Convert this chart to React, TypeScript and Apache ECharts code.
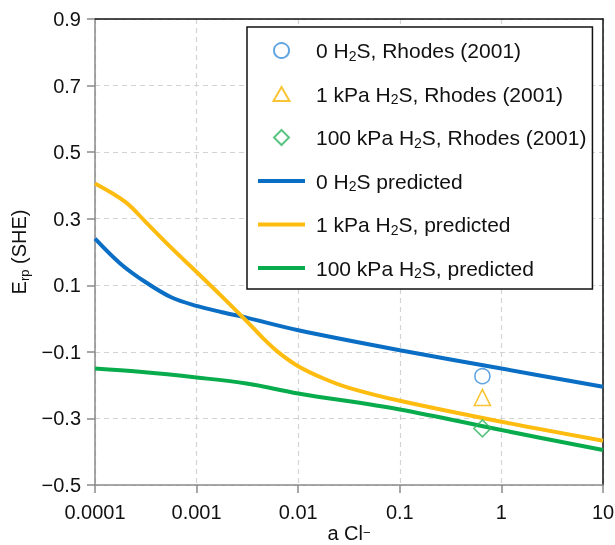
import React, { useEffect, useRef } from "react";
import * as echarts from "echarts";

// Predicted curves (a Cl-, E_rp)
const blueA = [0.0001, 0.000178, 0.000316, 0.000562, 0.001, 0.00178, 0.00316, 0.01, 0.1, 1, 10];
const blueE = [0.24, 0.165, 0.109, 0.064, 0.038, 0.019, 0.002, -0.035, -0.095, -0.15, -0.205];

const yellowA = [0.0001, 0.0002, 0.000316, 0.000562, 0.001, 0.00178, 0.00316, 0.00447, 0.0063, 0.01, 0.0178, 0.0316, 0.1, 1, 10];
const yellowE = [0.406, 0.35, 0.29, 0.213, 0.14, 0.066, -0.01, -0.058, -0.1, -0.143, -0.18, -0.208, -0.247, -0.31, -0.367];

const greenA = [0.0001, 0.000275, 0.001, 0.0031, 0.01, 0.1, 1, 10];
const greenE = [-0.15, -0.16, -0.177, -0.195, -0.225, -0.273, -0.335, -0.395];

// Rhodes (2001) measurements
const rhodesA = [0.65];
const rhodes0 = [-0.173];
const rhodes1k = [-0.237];
const rhodes100k = [-0.33];

const xTickLabels = ["0.0001", "0.001", "0.01", "0.1", "1", "10"];

const names = [
  "0 H2S, Rhodes (2001)",
  "1 kPa H2S, Rhodes (2001)",
  "100 kPa H2S, Rhodes (2001)",
  "0 H2S predicted",
  "1 kPa H2S, predicted",
  "100 kPa H2S, predicted",
];

const FONT = "Liberation Sans, Arial, Helvetica, sans-serif";

// legend icons padded to the 47x15 icon box so they keep their shape
const legendIcons = [
  "circle",
  "path://M0,0M47,15M15.5,14.5L23.5,0.5L31.5,14.5Z",
  "path://M0,0M47,15M23.5,0L31,7.5L23.5,15L16,7.5Z",
];

export default function App() {
  const ref = useRef<HTMLDivElement>(null);
  useEffect(() => {
    if (!ref.current) return;
    const chart = echarts.init(ref.current, undefined, { renderer: "svg" });
    const pair = (xs: number[], ys: number[]) => xs.map((x, i) => [x, ys[i]]);
    const mkRich = (size: number, lh: number) => ({
      g: { width: 6, lineHeight: lh },
      t: { fontSize: size, fontFamily: FONT, color: "#111", lineHeight: lh },
      s: { fontSize: Math.round(size * 0.65), fontFamily: FONT, color: "#111", lineHeight: 13, verticalAlign: "bottom" },
      p: { fontSize: Math.round(size * 0.65), fontFamily: FONT, color: "#111", lineHeight: 13, verticalAlign: "top" },
    });
    const lineSeries = (name: string, xs: number[], ys: number[], color: string) => ({
      name,
      type: "line",
      data: pair(xs, ys),
      smooth: 0.35,
      symbol: "none",
      lineStyle: { color, width: 4 },
      itemStyle: { color },
      z: 2,
    });
    const scatterSeries = (name: string, ys: number[], symbol: string, color: string, size: number) => ({
      name,
      type: "scatter",
      data: pair(rhodesA, ys),
      symbol,
      symbolSize: size,
      symbolKeepAspect: true,
      itemStyle: { color: "rgba(255,255,255,0)", borderColor: color, borderWidth: 1.6 },
      z: 5,
    });
    const colors = ["#3a8edb", "#f7b500", "#2fb561", "#0a6ec4", "#fdbc0f", "#08ac4c"];
    chart.setOption({
      animation: false,
      textStyle: { fontFamily: FONT },
      grid: { left: 95, right: 12, top: 19, bottom: 60, containLabel: false, outerBoundsMode: "none" },
      legend: {
        orient: "vertical",
        left: 247,
        top: 27,
        itemWidth: 47,
        itemHeight: 15,
        itemGap: 21,
        itemTextGap: 5,
        padding: [13, 6, 9, 9],
        borderColor: "#111",
        borderWidth: 1.5,
        backgroundColor: "#fff",
        data: names.map((n, i) =>
          i < 3
            ? { name: n, icon: legendIcons[i] }
            : { name: n, itemStyle: { opacity: 0 }, lineStyle: { width: 4, color: colors[i] } }
        ),
        formatter: (name: string) => {
          const parts = name.split("H2S");
          return `{g| }{t|${parts[0]}H}{s|2}{t|S${parts[1]}}`;
        },
        textStyle: { rich: mkRich(21, 24) },
      },
      xAxis: [
        {
          type: "log",
          logBase: 10,
          min: 0.0001,
          max: 10,
          name: "{t|a Cl}{p|−}",
          nameLocation: "middle",
          nameGap: 41,
          nameMoveOverlap: false,
          nameTextStyle: { rich: mkRich(20, 14) },
          axisLine: { onZero: false, lineStyle: { color: "#8a8a8a", width: 1.5 } },
          axisTick: { show: true, inside: false, length: 8, lineStyle: { color: "#8a8a8a", width: 1.5 } },
          minorTick: { show: false },
          axisLabel: {
            fontSize: 20,
            color: "#111",
            margin: 17,
            formatter: (v: number) => xTickLabels[Math.round(Math.log10(v)) + 4],
          },
          splitLine: { show: true, lineStyle: { color: "#d3d3d3", type: [5, 4], width: 1.2 } },
        },
        {
          type: "value",
          position: "top",
          min: 0,
          max: 1,
          axisLine: { show: true, onZero: false, lineStyle: { color: "#111", width: 1.5 } },
          axisTick: { show: false },
          axisLabel: { show: false },
          splitLine: { show: false },
        },
      ],
      yAxis: [
        {
          type: "value",
          min: -0.5,
          max: 0.9,
          interval: 0.2,
          name: "{t|E}{s|rp}{t| (SHE)}",
          nameLocation: "middle",
          nameGap: 40,
          nameTextStyle: { rich: mkRich(20, 24) },
          axisLine: { show: true, onZero: false, lineStyle: { color: "#8a8a8a", width: 1.5 } },
          axisTick: { show: true, inside: false, length: 8, lineStyle: { color: "#8a8a8a", width: 1.5 } },
          axisLabel: {
            fontSize: 20,
            color: "#111",
            margin: 14,
            formatter: (v: number) => (v < -1e-9 ? "−" : "") + Math.abs(v).toFixed(1),
          },
          splitLine: { show: true, lineStyle: { color: "#d3d3d3", type: [5, 4], width: 1.2 } },
        },
        {
          type: "value",
          position: "right",
          min: 0,
          max: 1,
          axisLine: { show: true, onZero: false, lineStyle: { color: "#111", width: 1.5 } },
          axisTick: { show: false },
          axisLabel: { show: false },
          splitLine: { show: false },
        },
      ],
      series: [
        scatterSeries(names[0], rhodes0, "circle", colors[0], 15),
        scatterSeries(names[1], rhodes1k, "triangle", colors[1], 16),
        scatterSeries(names[2], rhodes100k, "diamond", colors[2], 17),
        lineSeries(names[3], blueA, blueE, colors[3]),
        lineSeries(names[4], yellowA, yellowE, colors[4]),
        lineSeries(names[5], greenA, greenE, colors[5]),
      ],
    });
    return () => chart.dispose();
  }, []);
  return (
    <div
      ref={ref}
      style={{ position: "fixed", left: 0, top: 0, width: 615, height: 545 }}
    />
  );
}
